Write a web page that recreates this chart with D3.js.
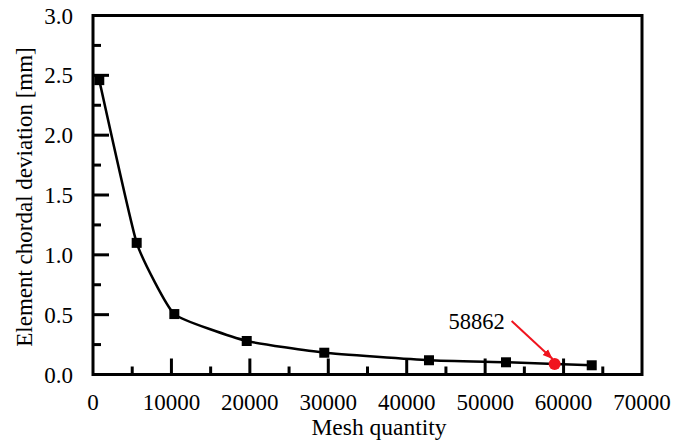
<!DOCTYPE html>
<html><head><meta charset="utf-8">
<script src="https://cdn.jsdelivr.net/npm/d3@7"></script>
<style>
html,body{margin:0;padding:0;background:#fff;}
text{font-family:"Liberation Serif","Times New Roman",serif;fill:#000;}
</style></head>
<body>
<svg id="chart" width="689" height="447"></svg>
<script>
const meshQuantity = [800, 5570, 10370, 19600, 29490, 42840, 52660, 63590];
const chordalDeviation = [2.46, 1.10, 0.505, 0.28, 0.182, 0.119, 0.102, 0.077];
const highlightX = [58862];
const highlightY = [0.088];
const highlightLabel = ["58862"];
const xTicks = [0, 10000, 20000, 30000, 40000, 50000, 60000, 70000];
const yTicks = [0.0, 0.5, 1.0, 1.5, 2.0, 2.5, 3.0];
const xTitle = "Mesh quantity";
const yTitle = "Element chordal deviation [mm]";

const svg = d3.select("#chart");
const L = 93, R = 642, T = 15.5, B = 374.5;
const x = d3.scaleLinear().domain([0, 70000]).range([L, R]);
const y = d3.scaleLinear().domain([0, 3]).range([B, T]);

const xMinor = d3.range(5000, 70000, 10000);
const yMinor = d3.range(0.25, 3, 0.5);
const g = svg.append("g");
g.selectAll(".xmaj").data(xTicks.slice(1, -1)).join("line")
  .attr("x1", d => x(d)).attr("x2", d => x(d)).attr("y1", B).attr("y2", B - 16)
  .attr("stroke", "#000").attr("stroke-width", 3);
g.selectAll(".xmin").data(xMinor).join("line")
  .attr("x1", d => x(d)).attr("x2", d => x(d)).attr("y1", B).attr("y2", B - 8)
  .attr("stroke", "#000").attr("stroke-width", 3);
g.selectAll(".ymaj").data(yTicks.slice(1, -1)).join("line")
  .attr("y1", d => y(d)).attr("y2", d => y(d)).attr("x1", L).attr("x2", L + 16)
  .attr("stroke", "#000").attr("stroke-width", 3);
g.selectAll(".ymin").data(yMinor).join("line")
  .attr("y1", d => y(d)).attr("y2", d => y(d)).attr("x1", L).attr("x2", L + 8)
  .attr("stroke", "#000").attr("stroke-width", 3);

svg.append("rect").attr("x", L).attr("y", T).attr("width", R - L).attr("height", B - T)
  .attr("fill", "none").attr("stroke", "#000").attr("stroke-width", 3);

svg.selectAll(".xl").data(xTicks).join("text")
  .attr("x", d => x(d)).attr("y", 410).attr("text-anchor", "middle")
  .attr("font-size", 23).text(d => d);
svg.selectAll(".yl").data(yTicks).join("text")
  .attr("x", 73).attr("y", d => y(d) + 8).attr("text-anchor", "end")
  .attr("font-size", 23).text(d => d.toFixed(1));

svg.append("text").attr("x", 379).attr("y", 435).attr("text-anchor", "middle")
  .attr("font-size", 23.5).text(xTitle);
svg.append("text").attr("transform", "translate(32,197) rotate(-90)")
  .attr("text-anchor", "middle").attr("font-size", 23).text(yTitle);

const pts = meshQuantity.map((d, i) => [d, chordalDeviation[i]]);
const line = d3.line().x(d => x(d[0])).y(d => y(d[1])).curve(d3.curveCardinal.tension(0.6));
svg.append("path").attr("d", line(pts)).attr("fill", "none")
  .attr("stroke", "#000").attr("stroke-width", 2.5);
svg.selectAll(".mk").data(pts).join("rect")
  .attr("x", d => x(d[0]) - 5).attr("y", d => y(d[1]) - 5)
  .attr("width", 10).attr("height", 10).attr("fill", "#000");

svg.append("defs").append("marker").attr("id", "arr")
  .attr("viewBox", "0 0 10 10").attr("refX", 10).attr("refY", 5)
  .attr("markerWidth", 5).attr("markerHeight", 5).attr("orient", "auto")
  .attr("markerUnits", "strokeWidth")
  .append("path").attr("d", "M0,1 L10,5 L0,9 Z").attr("fill", "#f0141e");
const hx = x(highlightX[0]), hy = y(highlightY[0]);
svg.append("line").attr("x1", hx - 43).attr("y1", hy - 43).attr("x2", hx - 2).attr("y2", hy - 5)
  .attr("stroke", "#f0141e").attr("stroke-width", 2).attr("marker-end", "url(#arr)");
svg.append("circle").attr("cx", hx).attr("cy", hy).attr("r", 6).attr("fill", "#f0141e");
svg.append("text").attr("x", hx - 50).attr("y", hy - 35).attr("text-anchor", "end")
  .attr("font-size", 22.5).text(highlightLabel[0]);
</script>
</body></html>
